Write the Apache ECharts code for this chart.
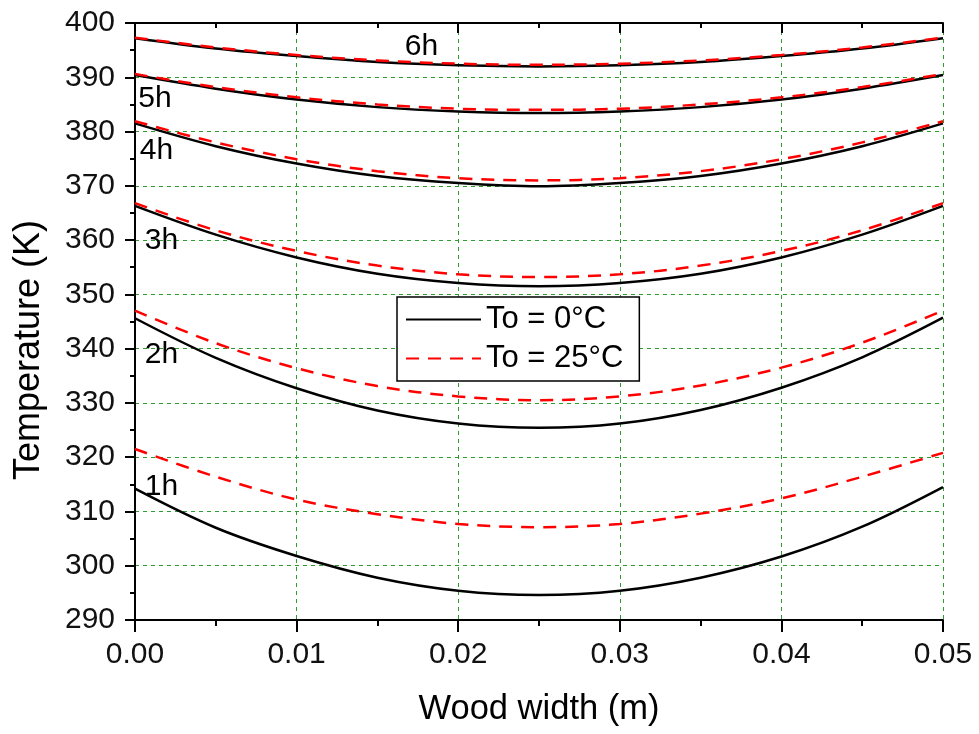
<!DOCTYPE html>
<html>
<head>
<meta charset="utf-8">
<script src="https://cdn.jsdelivr.net/npm/echarts@6/dist/echarts.min.js"></script>
<style>html,body{margin:0;padding:0;background:#fff}#c{width:979px;height:734px}</style>
</head>
<body>
<div id="c"></div>
<script>
const xs = [0, 0.005, 0.01, 0.015, 0.02, 0.025, 0.03, 0.035, 0.04, 0.045, 0.05];
const cold1h = [314.2, 307.0, 301.8, 297.8, 295.4, 294.6, 295.4, 297.8, 301.7, 307.2, 314.5];
const cold2h = [345.6, 338.3, 332.7, 328.6, 326.2, 325.4, 326.2, 328.7, 332.8, 338.4, 345.7];
const cold3h = [366.3, 361.0, 356.8, 353.8, 352.1, 351.5, 352.1, 353.8, 356.8, 361.0, 366.3];
const cold4h = [381.5, 377.3, 374.1, 371.8, 370.5, 369.9, 370.5, 371.8, 374.1, 377.3, 381.5];
const cold5h = [390.4, 387.9, 385.9, 384.5, 383.7, 383.4, 383.7, 384.5, 385.9, 387.9, 390.4];
const cold6h = [397.2, 395.3, 393.9, 392.8, 392.2, 392.0, 392.2, 392.8, 393.9, 395.3, 397.2];
const warm1h = [321.5, 316.4, 312.2, 309.5, 307.7, 307.1, 307.7, 309.6, 312.4, 316.4, 320.8];
const warm2h = [347.0, 341.0, 336.4, 333.1, 331.2, 330.5, 331.2, 333.2, 336.5, 341.1, 347.0];
const warm3h = [366.8, 361.8, 358.0, 355.3, 353.7, 353.2, 353.7, 355.3, 358.0, 361.8, 366.8];
const warm4h = [381.9, 378.0, 374.9, 372.7, 371.4, 371.0, 371.4, 372.7, 374.9, 378.0, 381.9];
const warm5h = [390.6, 388.2, 386.3, 385.0, 384.2, 384.0, 384.2, 385.0, 386.3, 388.2, 390.6];
const warm6h = [397.3, 395.5, 394.1, 393.1, 392.5, 392.3, 392.5, 393.1, 394.1, 395.5, 397.3];
const hourLabels = ['1h', '2h', '3h', '4h', '5h', '6h'];
const hourLabelPos = [[0.0006, 314.5], [0.0006, 338.8], [0.0006, 359.8], [0.0003, 376.4], [0.0002, 386.1], [0.0167, 395.7]];
const xTitle = 'Wood width (m)';
const yTitle = 'Temperature (K)';

const font = 'Liberation Sans, Arial, sans-serif';
const chart = echarts.init(document.getElementById('c'), null, {renderer: 'canvas'});
const zip = a => xs.map((x, i) => [x, a[i]]);
const cold = [cold1h, cold2h, cold3h, cold4h, cold5h, cold6h];
const warm = [warm1h, warm2h, warm3h, warm4h, warm5h, warm6h];
const series = [];
cold.forEach((d) => series.push({
  name: 'To = 0°C', type: 'line', data: zip(d), symbol: 'none', smooth: 0.35,
  lineStyle: {color: '#000', width: 2.5}, itemStyle: {color: '#000'}, z: 3
}));
warm.forEach((d) => series.push({
  name: 'To = 25°C', type: 'line', data: zip(d), symbol: 'none', smooth: 0.35,
  lineStyle: {color: '#ff0000', width: 2.5, type: [13, 9]}, itemStyle: {color: '#ff0000'}, z: 4
}));

const tickLine = {color: '#000', width: 2};
chart.setOption({
  animation: false,
  backgroundColor: '#fff',
  grid: {left: 135, right: 36, top: 23, bottom: 114, containLabel: false},
  legend: {
    data: ['To = 0°C', 'To = 25°C'],
    orient: 'vertical', left: 397, top: 297,
    padding: [7, 16, 7, 8], itemGap: 8, itemWidth: 75, itemHeight: 30,
    borderColor: '#000', borderWidth: 1.5, backgroundColor: '#fff',
    itemStyle: {color: 'rgba(0,0,0,0)', borderWidth: 0, opacity: 0},
    textStyle: {fontFamily: font, fontSize: 31, color: '#000'}
  },
  xAxis: [{
    type: 'value', min: 0, max: 0.05, interval: 0.01, position: 'bottom',
    axisLine: {show: true, lineStyle: tickLine},
    axisTick: {show: true, inside: false, length: 12, lineStyle: tickLine},
    minorTick: {show: true, splitNumber: 2, length: 6, lineStyle: tickLine},
    axisLabel: {fontFamily: font, fontSize: 30, color: '#111', margin: 20, formatter: v => v.toFixed(2)},
    splitLine: {show: true, lineStyle: {color: '#2a9d2a', width: 1, type: [4, 4]}}
  }, {
    type: 'value', min: 0, max: 0.05, interval: 0.01, position: 'top',
    axisLine: {show: true, lineStyle: tickLine},
    axisTick: {show: true, inside: true, length: 10, lineStyle: tickLine},
    minorTick: {show: true, splitNumber: 2, length: 5, lineStyle: tickLine},
    axisLabel: {show: false}, splitLine: {show: false}
  }],
  yAxis: [{
    type: 'value', min: 290, max: 400, interval: 10, position: 'left',
    axisLine: {show: true, lineStyle: tickLine},
    axisTick: {show: true, inside: false, length: 10, lineStyle: tickLine},
    minorTick: {show: true, splitNumber: 2, length: 5, lineStyle: tickLine},
    axisLabel: {fontFamily: font, fontSize: 30, color: '#111', margin: 20},
    splitLine: {show: true, lineStyle: {color: '#2a9d2a', width: 1, type: [4, 4]}}
  }, {
    type: 'value', min: 290, max: 400, interval: 10, position: 'right',
    axisLine: {show: true, lineStyle: tickLine},
    axisTick: {show: true, inside: true, length: 9, lineStyle: tickLine},
    minorTick: {show: true, splitNumber: 2, length: 5, lineStyle: tickLine},
    axisLabel: {show: false}, splitLine: {show: false}
  }],
  series: series
});

const graphics = hourLabels.map((t, i) => {
  const p = chart.convertToPixel({xAxisIndex: 0, yAxisIndex: 0}, hourLabelPos[i]);
  return {type: 'text', x: p[0], y: p[1], z: 10,
    style: {text: t, fontFamily: font, fontSize: 30, fill: '#000', align: 'left', verticalAlign: 'middle'}};
});
graphics.push({type: 'text', x: 539, y: 709, z: 10,
  style: {text: xTitle, fontFamily: font, fontSize: 34.5, fill: '#000', align: 'center', verticalAlign: 'middle'}});
graphics.push({type: 'text', x: 29, y: 350, rotation: Math.PI / 2, z: 10,
  style: {text: yTitle, fontFamily: font, fontSize: 36, fill: '#000', align: 'center', verticalAlign: 'middle'}});
chart.setOption({graphic: graphics});
</script>
</body>
</html>
